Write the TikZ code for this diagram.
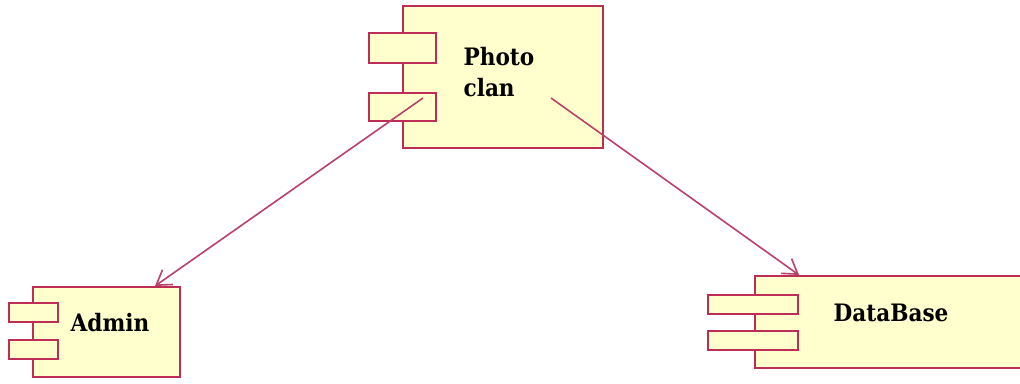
\documentclass[tikz,border=0pt]{standalone}
\usepackage{fontspec}
\setmainfont{DejaVu Serif Condensed}
\usetikzlibrary{positioning, calc, arrows.meta}
\definecolor{compline}{RGB}{190,45,85}
\definecolor{compfill}{RGB}{255,255,205}
\definecolor{depline}{RGB}{185,65,105}

\begin{document}
\begin{tikzpicture}[x=1pt, y=-1pt,
	comp/.style={draw=compline, fill=compfill, line width=2pt, inner sep=0pt},
	port/.style={comp, minimum width=#1, minimum height=19pt},
	compname/.style={font=\bfseries\fontsize{24}{31}\selectfont, align=left, inner sep=0pt},
	dep/.style={draw=depline, line width=1.6pt, -{Straight Barb[length=14pt, width=18pt, line width=1.6pt]}}]
	\useasboundingbox (0,0) rectangle (1020,383);

	\node (photo) [comp, minimum width=200pt, minimum height=142pt] at (503,77) {};
	\node (photoA) [port=67pt, minimum height=30pt] at (402.5,48) {};
	\node (photoB) [port=67pt, minimum height=28pt] at (402.5,107) {};
	\node (photoname) [compname] at (499,72) {Photo\\clan};

	\node (admin) [comp, minimum width=147pt, minimum height=90pt] at (106.5,332) {};
	\node (adminA) [port=49pt] at (33.5,312) {};
	\node (adminB) [port=49pt] at (33.5,349.5) {};
	\node (adminname) [compname] at (110,323) {Admin};

	\node (db) [comp, minimum width=272pt, minimum height=92pt] at (891,322) {};
	\node (dbA) [port=90pt] at (753,304) {};
	\node (dbB) [port=90pt] at (753,340) {};
	\node (dbname) [compname] at (891,312.5) {DataBase};

	% dependency ends
	\coordinate (srcA) at (423,98);
	\coordinate (srcB) at (551,98);
	\coordinate (tipA) at ($(admin.north)+(48.5,0)$);
	\coordinate (tipB) at ($(db.north west)+(45,0)$);

	\draw [dep] (srcA) -- (tipA);
	\draw [dep] (srcB) -- (tipB);
\end{tikzpicture}
\end{document}
